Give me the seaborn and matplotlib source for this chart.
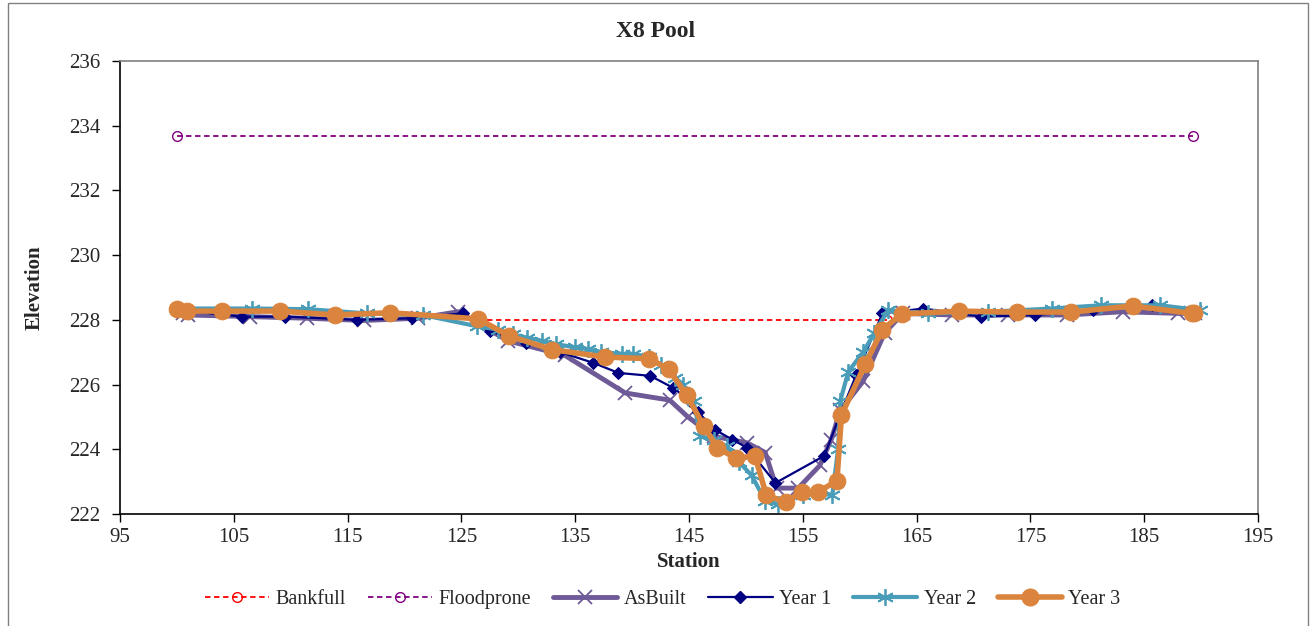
import matplotlib
matplotlib.use("Agg")
import matplotlib.pyplot as plt
import seaborn as sns
from matplotlib.lines import Line2D
from matplotlib.patches import Rectangle

# data
bank_x = [126.5, 162.4]
bank_y = [228.0, 228.0]
flood_x = [100.0, 189.3]
flood_y = [233.68, 233.68]

asbuilt_x = [100.5, 101.0, 106.4, 111.4, 116.4, 121.2, 124.7, 129.1, 134.1, 139.4,
             143.3, 144.9, 147.2, 150.1, 151.7, 152.7, 154.6, 156.5, 157.5, 158.3,
             160.3, 162.2, 163.8, 168.1, 173.0, 178.2, 183.1, 188.0, 189.5]
asbuilt_y = [228.2, 228.15, 228.1, 228.05, 227.98, 228.05, 228.25, 227.35, 226.9, 225.74,
             225.52, 225.0, 224.4, 224.2, 223.9, 222.8, 222.8, 223.5, 224.3, 225.2,
             226.1, 227.6, 228.2, 228.15, 228.15, 228.15, 228.25, 228.2, 228.2]

year1_x = [100.3, 105.7, 109.5, 115.8, 120.7, 125.1, 127.5, 130.7, 133.7, 136.6,
           138.8, 141.6, 143.6, 145.1, 145.8, 147.3, 148.8, 150.1, 152.6, 156.9,
           158.3, 159.7, 162.0, 165.6, 170.7, 175.4, 180.5, 185.7, 189.2]
year1_y = [228.3, 228.1, 228.1, 228.0, 228.05, 228.2, 227.65, 227.3, 227.0, 226.67,
           226.36, 226.27, 225.9, 225.5, 225.15, 224.6, 224.3, 224.05, 222.96, 223.8,
           225.1, 226.3, 228.2, 228.35, 228.1, 228.15, 228.3, 228.45, 228.25]

year2_x = [100.0, 106.6, 111.5, 116.7, 121.6, 126.4, 128.2, 129.5, 130.8, 132.1,
           133.3, 135.0, 136.1, 137.3, 139.1, 140.1, 141.5, 142.5, 143.8, 144.5,
           145.4, 146.0, 147.2, 148.3, 149.4, 150.5, 151.7, 152.8, 155.0, 157.6,
           158.1, 158.3, 159.0, 160.3, 161.3, 162.5, 166.0, 171.3, 176.9, 181.2,
           186.4, 189.9]
year2_y = [228.35, 228.35, 228.33, 228.2, 228.15, 227.8, 227.7, 227.55, 227.45, 227.35,
           227.25, 227.15, 227.1, 227.0, 226.95, 226.95, 226.85, 226.6, 226.2, 226.0,
           225.5, 224.4, 224.3, 224.1, 223.6, 223.2, 222.4, 222.3, 222.6, 222.6,
           224.0, 225.5, 226.4, 227.0, 227.6, 228.3, 228.2, 228.25, 228.35, 228.45,
           228.45, 228.3]

year3_x = [100.0, 100.9, 104.0, 109.1, 113.9, 118.7, 126.5, 129.2, 133.0, 137.6,
           141.5, 143.2, 144.8, 146.3, 147.5, 149.1, 150.8, 151.8, 153.5, 154.9,
           156.3, 158.0, 158.4, 160.5, 162.0, 163.7, 168.7, 173.8, 178.6, 184.0,
           189.2, 189.4]
year3_y = [228.32, 228.27, 228.27, 228.27, 228.15, 228.22, 228.03, 227.5, 227.08, 226.85,
           226.8, 226.48, 225.67, 224.72, 224.04, 223.73, 223.79, 222.58, 222.37, 222.68,
           222.68, 223.02, 225.06, 226.64, 227.7, 228.18, 228.27, 228.24, 228.24, 228.43,
           228.2, 228.2]

sns.set_style("white")
plt.rcParams['font.family'] = ['Liberation Serif', 'DejaVu Serif']

fig, ax = plt.subplots(figsize=(13.12, 6.26), dpi=100)
fig.subplots_adjust(left=0.0915, right=0.9588, top=0.9026, bottom=0.1789)

c_bank = '#FF0000'
c_flood = '#800080'
c_asb = '#6E5A96'
c_y1 = '#000080'
c_y2 = '#4A9DB8'
c_y3 = '#DB843D'
ast = (6, 2, 0)

sns.lineplot(x=bank_x, y=bank_y, ax=ax, sort=False, color=c_bank, lw=1.3,
             linestyle=(0, (3, 2)), marker='o', markersize=7, markerfacecolor='none',
             markeredgecolor=c_bank, markeredgewidth=1.0)
sns.lineplot(x=flood_x, y=flood_y, ax=ax, sort=False, color=c_flood, lw=1.3,
             linestyle=(0, (3, 2)), marker='o', markersize=7, markerfacecolor='none',
             markeredgecolor=c_flood, markeredgewidth=1.0)
sns.lineplot(x=asbuilt_x, y=asbuilt_y, ax=ax, sort=False, color=c_asb, lw=3.5,
             marker='x', markersize=10, markeredgecolor=c_asb, markeredgewidth=1.3)
sns.lineplot(x=year1_x, y=year1_y, ax=ax, sort=False, color=c_y1, lw=1.6,
             marker='D', markersize=6, markeredgecolor=c_y1, markerfacecolor=c_y1)
sns.lineplot(x=year2_x, y=year2_y, ax=ax, sort=False, color=c_y2, lw=3.0,
             marker=ast, markersize=12, markeredgecolor=c_y2, markeredgewidth=1.3)
sns.lineplot(x=year3_x, y=year3_y, ax=ax, sort=False, color=c_y3, lw=4.0,
             marker='o', markersize=12, markeredgecolor=c_y3, markerfacecolor=c_y3)

ax.set_xlim(95, 195)
ax.set_ylim(222, 236)
ax.set_xticks(range(95, 196, 10))
ax.set_yticks(range(222, 237, 2))
ax.tick_params(axis='both', which='major', labelsize=15, direction='out',
               length=6, width=1, color='black', bottom=True, left=True)
ax.tick_params(axis='x', pad=4)
ax.tick_params(axis='y', pad=8)

for side in ['left', 'bottom']:
    ax.spines[side].set_color('black')
    ax.spines[side].set_linewidth(1.2)
for side in ['top', 'right']:
    ax.spines[side].set_color('#808080')
    ax.spines[side].set_linewidth(1.2)

fig.suptitle('X8 Pool', fontsize=17, fontweight='bold', x=0.5, y=0.966)
ax.set_xlabel('Station', fontsize=15, fontweight='bold', labelpad=4)
ax.set_ylabel('Elevation', fontsize=15, fontweight='bold', labelpad=18)

handles = [
    Line2D([], [], color=c_bank, lw=1.3, linestyle=(0, (3, 2)), marker='o', markersize=7,
           markerfacecolor='none', markeredgecolor=c_bank),
    Line2D([], [], color=c_flood, lw=1.3, linestyle=(0, (3, 2)), marker='o', markersize=7,
           markerfacecolor='none', markeredgecolor=c_flood),
    Line2D([], [], color=c_asb, lw=3.5, marker='x', markersize=10, markeredgewidth=1.3),
    Line2D([], [], color=c_y1, lw=1.6, marker='D', markersize=6),
    Line2D([], [], color=c_y2, lw=3.0, marker=ast, markersize=12, markeredgewidth=1.3),
    Line2D([], [], color=c_y3, lw=4.0, marker='o', markersize=12),
]
labels = ['Bankfull', 'Floodprone', 'AsBuilt', 'Year 1', 'Year 2', 'Year 3']
fig.legend(handles, labels, loc='center', bbox_to_anchor=(0.505, 0.042), ncol=6,
           frameon=False, fontsize=14.5, handlelength=3.2, handletextpad=0.3,
           columnspacing=1.1)

# outer chart border
fig.add_artist(Rectangle((8 / 1312, -0.01), 1300 / 1312, 1.005, transform=fig.transFigure,
                         fill=False, edgecolor='#808080', lw=1.0))

plt.savefig('out.png', dpi=100)
